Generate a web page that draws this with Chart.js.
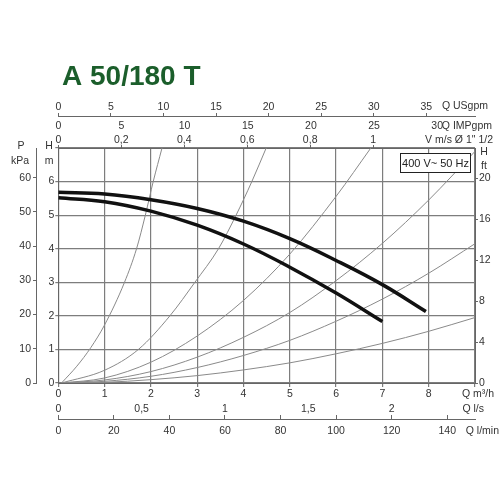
<!DOCTYPE html>
<html>
<head>
    <title>A 50/180 T</title>
    <script src="https://cdn.jsdelivr.net/npm/chart.js"></script>
    <style>
        body { margin: 0; background: #fff; }
    </style>
</head>
<body>
    <canvas id="chart" width="500" height="500"></canvas>

    <script>
        // pump curves (Q m3/h, H m)
        const qHigh = [0, 1, 2, 3, 4, 5, 6, 7, 7.94];
        const hHigh = [5.68, 5.63, 5.46, 5.2, 4.82, 4.3, 3.65, 2.93, 2.13];
        const qLow = [0, 1, 2, 3, 4, 5, 6, 7];
        const hLow = [5.52, 5.4, 5.12, 4.7, 4.14, 3.45, 2.68, 1.83];

        // system curves
        const qSysA = [0.07, 0.4, 0.7, 1.0, 1.43, 1.69, 1.88, 2.05, 2.24];
        const hSysA = [0, 0.5, 1.05, 1.73, 3, 4, 5, 6, 7];
        const qSysB = [0.07, 1.0, 1.73, 2.41, 2.95, 3.46, 3.84, 4.18, 4.49];
        const hSysB = [0, 0.38, 1, 2, 3, 4, 5, 6, 7];
        const qSysC = [0.07, 1, 2, 3, 4, 5, 6, 6.75];
        const hSysC = [0, 0.15, 0.62, 1.4, 2.46, 3.84, 5.56, 7];
        const qSys = [0.07, 1, 2, 3, 4, 5, 6, 7, 8, 9];
        const hSysD = [0, 0.09, 0.34, 0.77, 1.36, 2.1, 3.05, 4.16, 5.45, 6.9];
        const hSysE = [0, 0.05, 0.2, 0.46, 0.82, 1.27, 1.84, 2.5, 3.27, 4.15];
        const hSysF = [0, 0.02, 0.1, 0.22, 0.39, 0.6, 0.87, 1.18, 1.54, 1.95];

        // tick labels
        const qTicks = [0, 1, 2, 3, 4, 5, 6, 7, 8, 9];
        const hTicks = [0, 1, 2, 3, 4, 5, 6, 7];
        const kpaTicks = [0, 10, 20, 30, 40, 50, 60];
        const ftTicks = [0, 4, 8, 12, 16, 20];
        const usgpmTicks = [0, 5, 10, 15, 20, 25, 30, 35];
        const impTicks = [0, 5, 10, 15, 20, 25, 30];
        const vTicks = [0, 0.2, 0.4, 0.6, 0.8, 1];
        const lsTicks = [0, 0.5, 1, 1.5, 2];
        const lminTicks = [0, 20, 40, 60, 80, 100, 120, 140];

        // m3/h per unit
        const perUsgpm = 0.22712;
        const perImp = 0.27277;
        const perVel = 6.8;
        const perLs = 3.6;
        const perLmin = 0.06;

        const qMax = 9;
        const hMax = 7;

        const gridColor = '#7d7d7d';
        const lineColor = '#666';

        Chart.defaults.font.family = '"Liberation Sans", Arial, sans-serif';
        Chart.defaults.font.size = 10.5;
        Chart.defaults.color = '#333';

        function pts(qs, hs) {
            return qs.map((q, i) => ({ x: q, y: hs[i] }));
        }
        function setTicks(list) {
            return s => { s.ticks = list.map(v => ({ value: v })); };
        }
        function comma(v) {
            return String(v).replace('.', ',');
        }

        const sysStyle = {
            borderColor: '#8a8a8a', borderWidth: 1, pointRadius: 0,
            showLine: true, cubicInterpolationMode: 'monotone'
        };
        const pumpStyle = {
            borderColor: '#111', borderWidth: 3.5, pointRadius: 0,
            showLine: true, tension: 0.4, borderCapStyle: 'butt'
        };

        const extraText = {
            id: 'extraText',
            afterDraw(chart) {
                const c = chart.ctx;
                c.save();
                c.fillStyle = '#1b5e2b';
                c.font = 'bold 28px "Liberation Sans", Arial, sans-serif';
                c.textAlign = 'left';
                c.textBaseline = 'alphabetic';
                c.fillText('A 50/180 T', 62, 85);

                c.fillStyle = '#333';
                c.font = '10.5px "Liberation Sans", Arial, sans-serif';
                c.textBaseline = 'middle';
                c.textAlign = 'right';
                c.fillText('Q USgpm', 488, 106.5);
                c.fillText('Q IMPgpm', 492, 126);
                c.fillText('V m/s Ø 1" 1/2', 493, 140);
                c.fillText('Q m³/h', 494, 394);
                c.fillText('Q l/s', 484, 409.5);
                c.fillText('Q l/min', 499, 431);

                c.textAlign = 'center';
                c.fillText('P', 21, 146);
                c.fillText('kPa', 20, 161);
                c.fillText('H', 49, 146);
                c.fillText('m', 49, 161);
                c.fillText('H', 484, 152);
                c.fillText('ft', 484, 166);

                // voltage box
                c.fillStyle = '#fff';
                c.fillRect(400.5, 153.5, 70, 19);
                c.strokeStyle = '#222';
                c.lineWidth = 1;
                c.strokeRect(400.5, 153.5, 70, 19);
                c.fillStyle = '#222';
                c.font = '11px "Liberation Sans", Arial, sans-serif';
                c.fillText('400 V~ 50 Hz', 435.5, 163.5);
                c.restore();
            }
        };

        const ctx = document.getElementById('chart').getContext('2d');
        const chart = new Chart(ctx, {
            type: 'scatter',
            data: {
                datasets: [
                    { label: 'max', data: pts(qHigh, hHigh), ...pumpStyle },
                    { label: 'min', data: pts(qLow, hLow), ...pumpStyle },
                    { label: 'sysA', data: pts(qSysA, hSysA), ...sysStyle },
                    { label: 'sysB', data: pts(qSysB, hSysB), ...sysStyle },
                    { label: 'sysC', data: pts(qSysC, hSysC), ...sysStyle },
                    { label: 'sysD', data: pts(qSys, hSysD), ...sysStyle },
                    { label: 'sysE', data: pts(qSys, hSysE), ...sysStyle },
                    { label: 'sysF', data: pts(qSys, hSysF), ...sysStyle }
                ]
            },
            options: {
                responsive: false,
                animation: false,
                layout: { padding: { top: 96, bottom: 59, left: 0, right: 0 } },
                plugins: {
                    legend: { display: false },
                    tooltip: { enabled: false }
                },
                scales: {
                    x: {
                        type: 'linear', position: 'bottom', weight: 0,
                        min: 0, max: qMax,
                        afterBuildTicks: setTicks(qTicks),
                        afterFit: s => { s.height = 20; },
                        ticks: { padding: 1, autoSkip: false, maxRotation: 0,
                                 callback: v => v === qMax ? '' : v },
                        grid: { color: gridColor, lineWidth: 1.2, tickLength: 4 },
                        border: { color: lineColor }
                    },
                    ls: {
                        type: 'linear', axis: 'x', position: 'bottom', weight: 1,
                        min: 0, max: qMax / perLs,
                        afterBuildTicks: setTicks(lsTicks),
                        afterFit: s => { s.height = 16; },
                        ticks: { padding: 0, autoSkip: false, maxRotation: 0, callback: comma },
                        grid: { display: false, drawTicks: false },
                        border: { display: false }
                    },
                    lmin: {
                        type: 'linear', axis: 'x', position: 'bottom', weight: 2,
                        min: 0, max: qMax / perLmin,
                        afterBuildTicks: setTicks(lminTicks),
                        afterFit: s => { s.height = 22; },
                        ticks: { padding: 10, autoSkip: false, maxRotation: 0 },
                        grid: { drawOnChartArea: false, tickLength: -4, color: lineColor },
                        border: { color: lineColor }
                    },
                    y: {
                        type: 'linear', position: 'left', weight: 0,
                        min: 0, max: hMax,
                        afterBuildTicks: setTicks(hTicks),
                        afterFit: s => { s.width = 22.3; },
                        ticks: { padding: 1, callback: v => v === hMax ? '' : v },
                        grid: { color: gridColor, lineWidth: 1.2, tickLength: 3 },
                        border: { color: lineColor }
                    },
                    kpa: {
                        type: 'linear', axis: 'y', position: 'left', weight: 1,
                        min: 0, max: hMax * 9.81,
                        afterBuildTicks: setTicks(kpaTicks),
                        afterFit: s => { s.width = 36; },
                        ticks: { padding: 2 },
                        grid: { drawOnChartArea: false, tickLength: 3, color: lineColor },
                        border: { color: lineColor }
                    },
                    ft: {
                        type: 'linear', axis: 'y', position: 'right', weight: 0,
                        min: 0, max: hMax * 3.2808,
                        afterBuildTicks: setTicks(ftTicks),
                        afterFit: s => { s.width = 25; },
                        ticks: { padding: 1 },
                        grid: { drawOnChartArea: false, tickLength: 3, color: lineColor },
                        border: { color: lineColor }
                    },
                    vel: {
                        type: 'linear', axis: 'x', position: 'top', weight: 0,
                        min: 0, max: qMax / perVel,
                        afterBuildTicks: setTicks(vTicks),
                        afterFit: s => { s.height = 15; },
                        ticks: { padding: -1, autoSkip: false, maxRotation: 0, callback: comma },
                        grid: { drawOnChartArea: false, tickLength: 3, color: lineColor },
                        border: { color: lineColor }
                    },
                    imp: {
                        type: 'linear', axis: 'x', position: 'top', weight: 1,
                        min: 0, max: qMax / perImp,
                        afterBuildTicks: setTicks(impTicks),
                        afterFit: s => { s.height = 17; },
                        ticks: { padding: 1, autoSkip: false, maxRotation: 0 },
                        grid: { display: false, drawTicks: false },
                        border: { display: false }
                    },
                    usgpm: {
                        type: 'linear', axis: 'x', position: 'top', weight: 2,
                        min: 0, max: qMax / perUsgpm,
                        afterBuildTicks: setTicks(usgpmTicks),
                        afterFit: s => { s.height = 20; },
                        ticks: { padding: 0, autoSkip: false, maxRotation: 0 },
                        grid: { drawOnChartArea: false, tickLength: 3, color: lineColor },
                        border: { color: lineColor }
                    }
                }
            },
            plugins: [extraText]
        });
    </script>
</body>
</html>
